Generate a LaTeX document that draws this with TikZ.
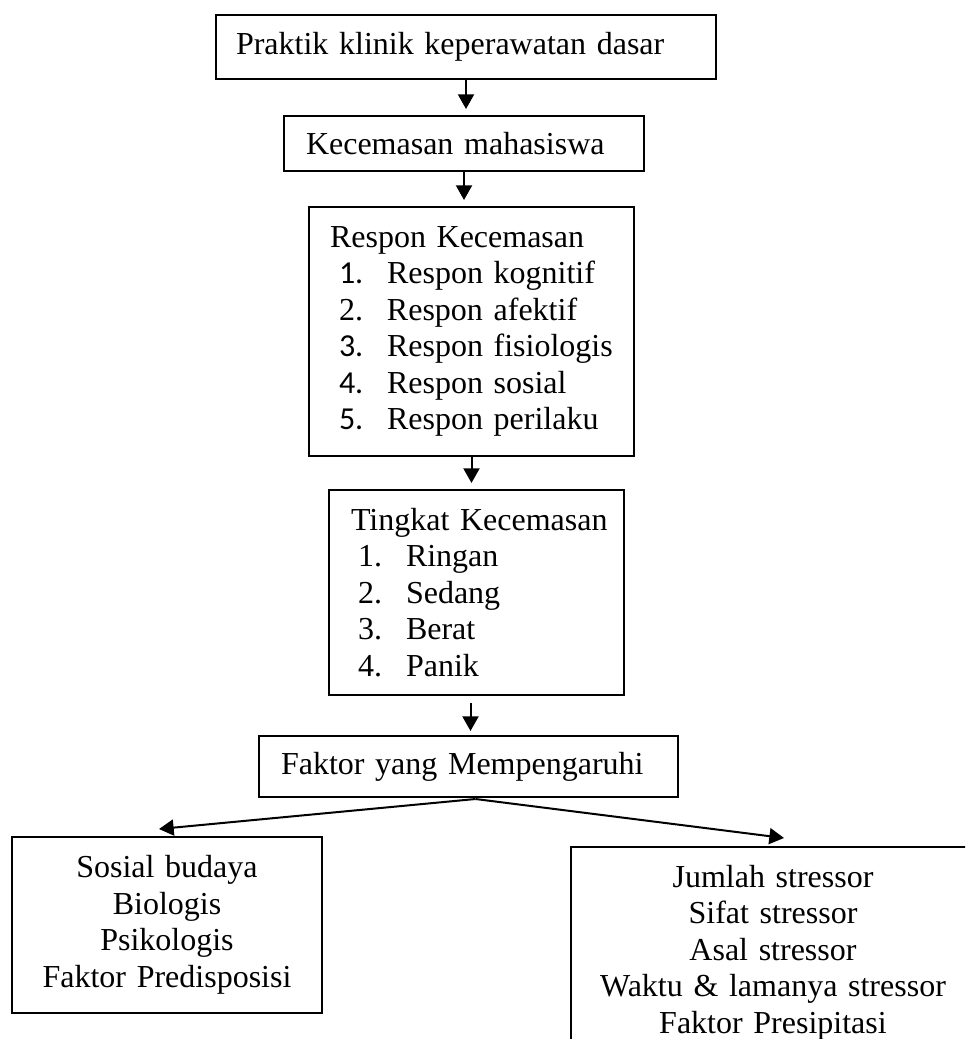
\documentclass[tikz,border=0pt]{standalone}
\usepackage{fontspec}
\setmainfont{Liberation Serif}
\newfontfamily\calibri{Carlito}
\usetikzlibrary{arrows.meta}

\newlength\px
\setlength\px{0.75pt}
\newcommand\listrow[3]{\hspace*{#1}\makebox[48\px][l]{#2}#3}

\begin{document}
\begin{tikzpicture}[x=1\px, y=-1\px,
  box/.style={draw, line width=2\px, inner ysep=0pt, anchor=north west,
    font=\fontsize{24pt}{27.4pt}\selectfont},
  lbox/.style={box, align=left},
  cbox/.style={box, align=center, inner xsep=10\px},
  arr/.style={-{Triangle[width=12pt,length=11pt]}, line width=2\px}]

\useasboundingbox (0,0) rectangle (965,1039);
\clip (0,0) rectangle (965,1039);

% BOX 1
\node[lbox, inner xsep=20\px, text width=460\px, minimum height=64\px] (praktik) at (215,14)
  {Praktik klinik keperawatan dasar};

% BOX 2
\node[lbox, inner xsep=22\px, text width=316\px, minimum height=55\px] (cemas) at (283,115)
  {Kecemasan mahasiswa};

% BOX 3
\node[lbox, inner xsep=21\px, text width=283\px, minimum height=249\px] (respon) at (308,206)
  {\mbox{Respon Kecemasan}\\
   \listrow{9\px}{\calibri 1.}{Respon kognitif}\\
   \listrow{9\px}{2.}{Respon afektif}\\
   \listrow{9\px}{\calibri 3.}{Respon fisiologis}\\
   \listrow{9\px}{\calibri 4.}{Respon sosial}\\
   \listrow{9\px}{\calibri 5.}{Respon perilaku}};

% BOX 4
\node[lbox, inner xsep=22\px, text width=251\px, minimum height=205\px] (tingkat) at (328,489)
  {\mbox{Tingkat Kecemasan}\\
   \listrow{7\px}{1.}{Ringan}\\
   \listrow{7\px}{2.}{Sedang}\\
   \listrow{7\px}{3.}{Berat}\\
   \listrow{7\px}{4.}{Panik}};

% BOX 5
\node[lbox, inner xsep=22\px, text width=375\px, minimum height=61\px] (faktor) at (258,735)
  {Faktor yang Mempengaruhi};

% BOTTOM BOXES
\node[cbox, text width=290\px, minimum height=176\px] (predis) at (11,836)
  {Sosial budaya\\ Biologis\\ Psikologis\\ Faktor Predisposisi};
\node[cbox, text width=384\px, minimum height=211\px] (presip) at (570,846)
  {Jumlah stressor\\ Sifat stressor\\ Asal stressor\\ Waktu \& lamanya stressor\\ Faktor Presipitasi};

% ARROWS
\draw[arr, shorten >=6\px] (praktik.south) -- (praktik.south |- cemas.north);
\draw[arr, shorten >=6\px] (cemas.south) -- (cemas.south |- respon.north);
\draw[arr, shorten >=6\px] (respon.south) -- (respon.south |- tingkat.north);
\draw[arr, shorten <=7\px, shorten >=4\px] ([xshift=-6\px]tingkat.south) -- ([xshift=-6\px]tingkat.south |- faktor.north);

\coordinate (fork) at ([xshift=7\px,yshift=-1\px]faktor.south);
\coordinate (predisin) at ([xshift=-8\px,yshift=7\px]predis.north);
\coordinate (presipin) at ([xshift=11\px,yshift=8\px]presip.north);
\draw[arr] (fork) -- (predisin);
\draw[arr] (fork) -- (presipin);

\end{tikzpicture}
\end{document}
